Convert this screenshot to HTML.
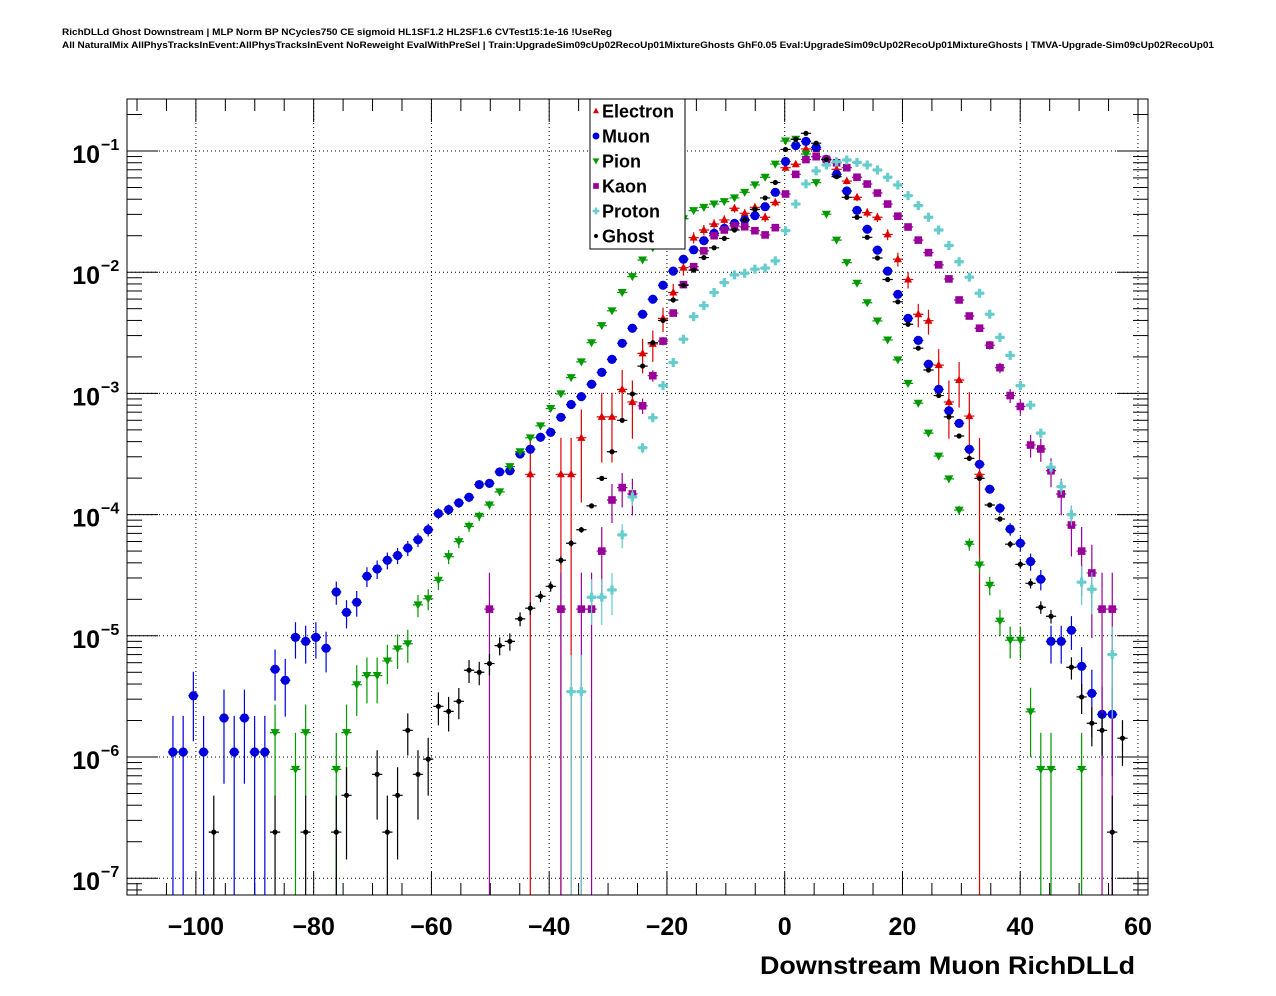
<!DOCTYPE html>
<html><head><meta charset="utf-8">
<style>
html,body{margin:0;padding:0;background:#fff;}
svg{display:block;font-family:"Liberation Sans",sans-serif;}
</style></head>
<body>
<svg id="chart" width="1276" height="996" viewBox="0 0 1276 996" xmlns="http://www.w3.org/2000/svg">
<rect x="0" y="0" width="1276" height="996" fill="#fff"/>
<text x="62" y="35" font-size="9.5" font-weight="bold" textLength="550" lengthAdjust="spacingAndGlyphs">RichDLLd Ghost Downstream | MLP Norm BP NCycles750 CE sigmoid HL1SF1.2 HL2SF1.6 CVTest15:1e-16 !UseReg</text>
<text x="62" y="48" font-size="9.5" font-weight="bold" textLength="1152" lengthAdjust="spacingAndGlyphs">All NaturalMix AllPhysTracksInEvent:AllPhysTracksInEvent NoReweight EvalWithPreSel | Train:UpgradeSim09cUp02RecoUp01MixtureGhosts GhF0.05 Eval:UpgradeSim09cUp02RecoUp01MixtureGhosts | TMVA-Upgrade-Sim09cUp02RecoUp01</text>
<g id="grid"></g>
<g id="axes"></g>
<g id="series"></g>
<rect x="127" y="99" width="1021" height="796" fill="none" stroke="#000" stroke-width="1"/>
<g id="legend"></g>
<text x="1135" y="974" font-size="25" font-weight="bold" text-anchor="end" textLength="375" lengthAdjust="spacingAndGlyphs">Downstream Muon RichDLLd</text>
</svg>
<script>
// ---- data ----
const xMin = -111.7, xMax = 61.7, nBins = 100;
const xTicks = [-100, -80, -60, -40, -20, 0, 20, 40, 60];
const xTickLabels = ["\u2212100", "\u221280", "\u221260", "\u221240", "\u221220", "0", "20", "40", "60"];
const yDecades = [-1, -2, -3, -4, -5, -6, -7];
const seriesNames = ["Electron", "Muon", "Pion", "Kaon", "Proton", "Ghost"];

const electronStart = 39;
const electron = [2.15e-4,null,null,2.15e-4,2.15e-4,4.3e-4,null,6.4e-4,6.4e-4,1.08e-3,8.5e-4,2.14e-3,2.56e-3,4.16e-3,6.8e-3,1.09e-2,1.93e-2,2.23e-2,2.5e-2,2.7e-2,3.37e-2,3.06e-2,3.43e-2,2.84e-2,3.77e-2,0.0728,0.0777,0.104,0.103,0.085,0.0706,0.0565,0.0415,0.031,0.0284,0.0205,0.0128,8.7e-3,4.5e-3,3.98e-3,1.71e-3,8.5e-4,1.29e-3,6.5e-4,2.15e-4];
const muonStart = 4;
const muon = [1.1e-6,1.1e-6,3.2e-6,1.1e-6,null,2.1e-6,1.1e-6,2.1e-6,1.1e-6,1.1e-6,5.3e-6,4.3e-6,9.7e-6,9.0e-6,9.7e-6,7.9e-6,2.3e-5,1.56e-5,1.89e-5,3.1e-5,3.56e-5,4.2e-5,4.6e-5,5.3e-5,6.2e-5,7.5e-5,1.02e-4,1.1e-4,1.25e-4,1.39e-4,1.77e-4,1.81e-4,2.25e-4,2.3e-4,3.16e-4,3.46e-4,4.35e-4,4.77e-4,6.35e-4,8.1e-4,9.4e-4,1.19e-3,1.49e-3,1.91e-3,2.59e-3,3.45e-3,4.5e-3,5.98e-3,7.8e-3,1.02e-2,1.28e-2,1.53e-2,1.82e-2,2.09e-2,2.3e-2,2.53e-2,2.7e-2,2.93e-2,3.47e-2,4.56e-2,8.2e-2,0.111,0.12,0.107,0.0854,0.0642,0.0468,0.0324,0.0226,0.0152,0.0102,6.56e-3,4.16e-3,2.74e-3,1.74e-3,1.08e-3,7.2e-4,5.66e-4,3.46e-4,2.6e-4,1.62e-4,1.13e-4,7.6e-5,5.8e-5,4.1e-5,2.93e-5,9.0e-6,9.0e-6,1.11e-5,5.6e-6,3.35e-6,2.25e-6,2.25e-6];
const pionStart = 14;
const pion = [1.59e-6,null,7.9e-7,1.59e-6,null,null,7.9e-7,1.59e-6,3.95e-6,4.7e-6,4.7e-6,6.2e-6,7.8e-6,8.6e-6,1.8e-5,2.02e-5,2.87e-5,4.5e-5,5.98e-5,8.0e-5,9.7e-5,1.2e-4,1.54e-4,2.49e-4,3.3e-4,4.3e-4,5.4e-4,7.5e-4,9.9e-4,1.35e-3,1.82e-3,2.62e-3,3.62e-3,4.8e-3,6.8e-3,9.2e-3,1.26e-2,1.59e-2,1.92e-2,2.3e-2,2.76e-2,3.22e-2,3.43e-2,3.65e-2,3.82e-2,4.1e-2,4.56e-2,5.25e-2,6.07e-2,7.8e-2,0.121,0.125,0.0945,0.0548,0.0301,0.0184,0.012,8.1e-3,5.6e-3,3.96e-3,2.76e-3,1.89e-3,1.21e-3,8.3e-4,4.7e-4,3.04e-4,1.97e-4,1.09e-4,5.7e-5,3.84e-5,2.61e-5,1.32e-5,9.2e-6,9.2e-6,2.36e-6,7.9e-7,7.9e-7,null,null,7.9e-7];
const kaonStart = 35;
const kaon = [1.66e-5,null,null,null,null,null,null,1.66e-5,null,1.66e-5,1.66e-5,5.0e-5,1.32e-4,1.67e-4,1.48e-4,7.9e-4,1.4e-3,2.7e-3,4.6e-3,7.9e-3,1.11e-2,1.5e-2,2.0e-2,2.23e-2,2.41e-2,2.37e-2,2.2e-2,2.03e-2,2.33e-2,0.0442,0.0642,0.085,0.0897,0.0854,0.08,0.0728,0.0607,0.0534,0.045,0.0365,0.029,0.0236,0.0184,0.0145,0.0115,8.8e-3,5.9e-3,4.35e-3,3.45e-3,2.5e-3,1.63e-3,9.6e-4,7.8e-4,3.75e-4,3.48e-4,2.3e-4,1.48e-4,8.2e-5,5.0e-5,3.3e-5,1.66e-5,1.66e-5];
const protonStart = 43;
const proton = [3.46e-6,3.46e-6,2.08e-5,2.08e-5,2.39e-5,6.8e-5,1.4e-4,3.56e-4,6.3e-4,1.16e-3,1.8e-3,2.8e-3,4.3e-3,5.3e-3,6.8e-3,8.2e-3,9.5e-3,9.8e-3,1.06e-2,1.08e-2,1.24e-2,2.2e-2,3.65e-2,5.35e-2,6.85e-2,0.0766,0.0816,0.0843,0.0806,0.0766,0.0697,0.0607,0.0524,0.0428,0.0354,0.0284,0.0223,0.0166,0.0122,9.1e-3,6.7e-3,4.5e-3,2.9e-3,2.06e-3,1.16e-3,8.0e-4,4.7e-4,2.46e-4,1.7e-4,1.0e-4,2.77e-5,2.42e-5,null,7.0e-6];
const ghostStart = 8;
const ghost = [2.4e-7,null,null,null,null,null,2.4e-7,null,null,2.4e-7,null,null,2.4e-7,4.83e-7,null,null,7.2e-7,2.4e-7,4.83e-7,1.66e-6,7.2e-7,9.6e-7,2.62e-6,2.38e-6,2.88e-6,5.2e-6,5.0e-6,5.9e-6,8.3e-6,9.0e-6,1.38e-5,1.69e-5,2.12e-5,2.56e-5,4.2e-5,5.8e-5,7.5e-5,1.18e-4,1.99e-4,3.3e-4,6.0e-4,9.9e-4,1.68e-3,2.62e-3,4.0e-3,5.9e-3,7.8e-3,1.04e-2,1.32e-2,1.59e-2,1.9e-2,2.23e-2,2.7e-2,3.3e-2,4.1e-2,5.5e-2,0.103,0.125,0.14,0.116,0.085,0.0614,0.0415,0.0284,0.0194,0.0131,8.7e-3,5.7e-3,3.72e-3,2.36e-3,1.56e-3,9.6e-4,6.4e-4,4.45e-4,2.91e-4,1.99e-4,1.2e-4,9.2e-5,5.7e-5,3.89e-5,2.71e-5,1.72e-5,1.45e-5,null,5.5e-6,3.13e-6,1.9e-6,1.66e-6,2.4e-7,1.43e-6];
// unit weight per entry (value of a single count) for Poisson error bars
const unitWeights = [2.15e-4, 1.07e-6, 7.9e-7, 1.66e-5, 3.46e-6, 2.4e-7];

// ---- geometry ----
const PL = 127, PR = 1148, PT = 99, PB = 895;
const NS = "http://www.w3.org/2000/svg";
function X(v){ return PL + (v - xMin) / (xMax - xMin) * (PR - PL); }
function Y(v){ return 151 + (-1 - Math.log10(v)) * 121.2; }
function binCenter(k){ return xMin + (k + 0.5) * (xMax - xMin) / nBins; }
function mk(tag, attrs, parent){
  const e = document.createElementNS(NS, tag);
  for (const a in attrs) e.setAttribute(a, attrs[a]);
  parent.appendChild(e);
  return e;
}
const grid = document.getElementById('grid');
const axes = document.getElementById('axes');
const seriesG = document.getElementById('series');
const legend = document.getElementById('legend');

// grid + ticks x
xTicks.forEach((t, i) => {
  const x = X(t);
  const g = mk('line', {x1:x, x2:x, y1:PT, y2:PB, stroke:'#000', 'stroke-width':1, 'stroke-dasharray':'1,3'}, grid);
  
  
  const lab = mk('text', {x:x, y:935, 'font-size':25, 'font-weight':'bold', 'text-anchor':'middle'}, axes);
  lab.textContent = xTickLabels[i];
  
  
});
for (let v = -110; v <= 60; v += 5) {
  const x = X(v);
  const major = (v % 20 === 0);
  const L = major ? 23 : 12;
  const t1 = mk('line', {x1:x, x2:x, y1:PB, y2:PB - L, stroke:'#000', 'stroke-width':1}, axes);
  
  
  const t2 = mk('line', {x1:x, x2:x, y1:PT, y2:PT + L, stroke:'#000', 'stroke-width':1}, axes);
  
  
}
// y grid + ticks
yDecades.forEach(d => {
  const y = Y(Math.pow(10, d));
  const g = mk('line', {x1:PL, x2:PR, y1:y, y2:y, stroke:'#000', 'stroke-width':1, 'stroke-dasharray':'1,3'}, grid);
  
  
  const lab = mk('text', {x:100, y:y + 12, 'font-size':25, 'font-weight':'bold', 'text-anchor':'end'}, axes);
  lab.textContent = '10';
  
  
  const sup = mk('text', {x:101, y:y - 1, 'font-size':16, 'font-weight':'bold', 'text-anchor':'start'}, axes);
  sup.textContent = '\u2212' + (-d);
  
  
});
for (let d = -8; d <= 0; d++) {
  for (let m = 1; m <= 9; m++) {
    const v = m * Math.pow(10, d);
    const y = Y(v);
    if (y < PT || y > PB) continue;
    const L = (m === 1) ? 31 : 15;
    const a = mk('line', {x1:PL, x2:PL + L, y1:y, y2:y, stroke:'#000', 'stroke-width':1}, axes);
    
    
    const b = mk('line', {x1:PR, x2:PR - L, y1:y, y2:y, stroke:'#000', 'stroke-width':1}, axes);
    
    
  }
}

// markers
const colors = ['#dd0000', '#0000dd', '#009900', '#990099', '#66cccc', '#000000'];
function marker(type, cx, cy, col, parent, s){
  s = s || 1;
  let e;
  if (type === 0) e = mk('polygon', {points:`${cx},${cy-4.5*s} ${cx-4*s},${cy+3*s} ${cx+4*s},${cy+3*s}`, fill:col}, parent);
  else if (type === 1) e = mk('circle', {cx:cx, cy:cy, r:4.6*s, fill:col}, parent);
  else if (type === 2) e = mk('polygon', {points:`${cx-4.5*s},${cy-3.5*s} ${cx+4.5*s},${cy-3.5*s} ${cx},${cy+4.5*s}`, fill:col}, parent);
  else if (type === 3) e = mk('rect', {x:cx-3.8*s, y:cy-3.8*s, width:7.6*s, height:7.6*s, fill:col}, parent);
  else if (type === 4) e = mk('path', {d:`M${cx-4.5*s},${cy}H${cx+4.5*s}M${cx},${cy-4.5*s}V${cy+4.5*s}`, stroke:col, 'stroke-width':3.2*s, fill:'none'}, parent);
  else e = mk('circle', {cx:cx, cy:cy, r:2.6*s, fill:col}, parent);
  return e;
}

const allData = [[electron, electronStart], [muon, muonStart], [pion, pionStart], [kaon, kaonStart], [proton, protonStart], [ghost, ghostStart]];
const halfW = (PR - PL) / nBins / 2;
allData.forEach((pair, si) => {
  const arr = pair[0], start = pair[1];
  const col = colors[si];
  const g = mk('g', {}, seriesG);
  
  
  arr.forEach((v, i) => {
    if (v === null || v === undefined) return;
    const k = start + i;
    const cx = X(binCenter(k));
    const cy = Y(v);
    const err = Math.sqrt(v * unitWeights[si]);
    const yTop = Math.max(PT, Y(v + err));
    const lo = v - err;
    const yBot = lo > 1e-12 ? Math.min(PB, Y(lo)) : PB;
    const eb = mk('path', {d:`M${cx},${yTop}V${yBot}M${cx-halfW},${cy}H${cx+halfW}`, stroke:col, 'stroke-width':1.2, fill:'none'}, g);
    
    
    const m = marker(si, cx, cy, col, g);
    
    
  });
});

// legend
const box = mk('rect', {x:590, y:99, width:95, height:150, fill:'#fff', stroke:'#000', 'stroke-width':1}, legend);


seriesNames.forEach((nm, i) => {
  const y = 111 + i * 25;
  const m = marker(i, 596, y, colors[i], legend, 0.75);
  
  
  const t = mk('text', {x:602, y:y + 6.5, 'font-size':18, 'font-weight':'bold'}, legend);
  t.textContent = nm;
  
  
});
</script>
</body></html>
